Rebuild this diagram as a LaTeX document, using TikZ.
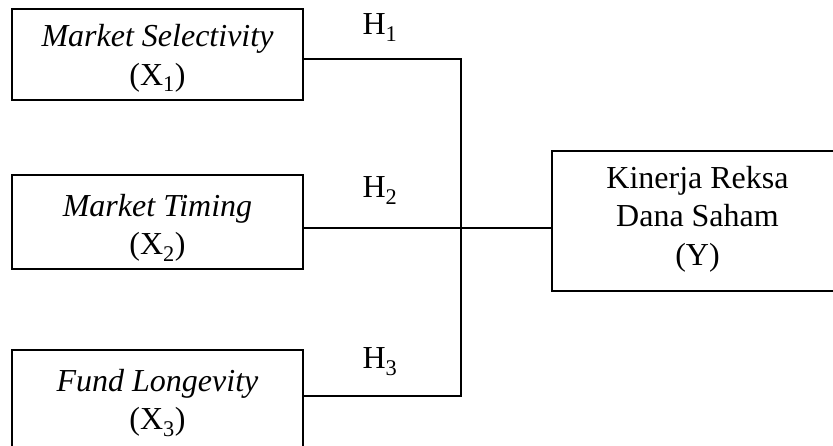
\documentclass[tikz,border=0pt]{standalone}
\usepackage{fontspec}
\setmainfont{Liberation Serif}
\begin{document}
\begin{tikzpicture}[x=1pt,y=-1pt, line width=1.2pt,
  box/.style={draw, line width=1.3pt, inner sep=0pt},
  txt/.style={align=center, inner sep=0pt, font=\fontsize{32}{38.5}\selectfont},
  hlab/.style={anchor=base west, inner sep=0pt, font=\fontsize{32}{38}\selectfont}]
\useasboundingbox (0,0) rectangle (833,446);
\node[box, minimum width=291pt, minimum height=91pt] (x1) at (157.5,54.5) {};
\node[box, minimum width=291pt, minimum height=94pt] (x2) at (157.5,222) {};
\node[box, minimum width=291pt, minimum height=98pt] (x3) at (157.5,399) {};
\node[box, minimum width=291pt, minimum height=140pt] (y) at (697.5,221) {};
\node[txt] (t1) at ([yshift=-4pt]x1.center) {\textit{Market Selectivity}\\(X\textsubscript{1})};
\node[txt] (t2) at ([yshift=-6pt]x2.center) {\textit{Market Timing}\\(X\textsubscript{2})};
\node[txt] (t3) at ([yshift=-4pt]x3.center) {\textit{Fund Longevity}\\(X\textsubscript{3})};
\node[txt] (ty) at ([yshift=2pt]y.center) {Kinerja Reksa\\Dana Saham\\(Y)};
\node[hlab] (h1) at (362,35) {H\textsubscript{1}};
\node[hlab] (h2) at (362,198) {H\textsubscript{2}};
\node[hlab] (h3) at (362,369) {H\textsubscript{3}};
\coordinate (j) at (461,228);
\draw ([yshift=-4.5pt]x1.east) -| (j);
\draw ([yshift=3pt]x3.east) -| (j);
\draw ([yshift=-6pt]x2.east) -- ([yshift=-7pt]y.west);
\end{tikzpicture}
\end{document}
